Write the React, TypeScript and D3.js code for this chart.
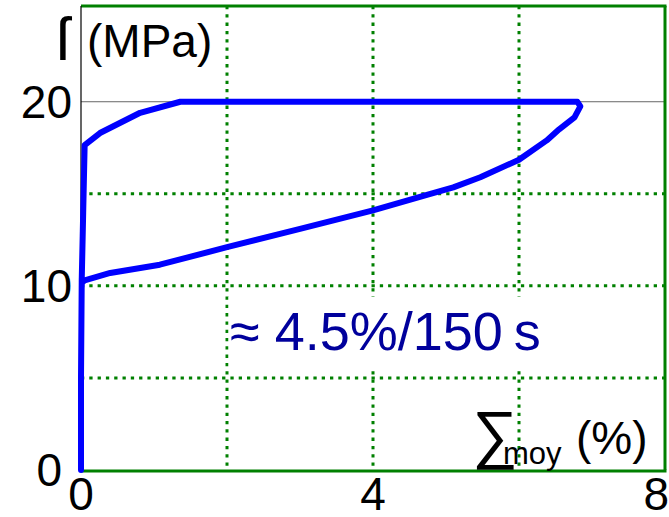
import React from "react";
import * as d3 from "d3";

// ---- data ----
const xTicks = [0, 4, 8];
const yTicks = [0, 10, 20];
const xGrid = [2, 4, 6];
const yGrid = [5, 10, 15];
const refLevel = 20;

// strain (%) along the loop: loading up the axis, creep at 20 MPa, unloading branch
const strain = [0, 0, 0.01, 0.03, 0.05, 0.26, 0.81, 1.36, 6.8, 6.84, 6.76, 6.55, 6.38, 6.0, 5.47, 5.1, 4.75, 4.0, 3.0, 2.0, 1.08, 0.4, 0.05, 0.02];
const stress = [0, 5, 10.3, 14.0, 17.65, 18.3, 19.4, 20.0, 20.0, 19.75, 19.15, 18.5, 17.9, 16.85, 15.9, 15.35, 14.95, 14.1, 13.1, 12.1, 11.15, 10.7, 10.3, 10.2];

const annotation = "\u2248 4.5%/150\u2009s";

export default function App() {
  const W = 669, H = 517;
  const x = d3.scaleLinear().domain([0, 8]).range([81, 665]);
  const y = d3.scaleLinear().domain([0, 25.2]).range([470, 6]);
  const pts: [number, number][] = strain.map((s, i) => [s, stress[i]]);
  const line = d3.line<[number, number]>().x(d => x(d[0])).y(d => y(d[1]));
  const font = "'Liberation Sans', Arial, sans-serif";
  const green = "#008000";
  const [x0, x1] = x.range();
  const [y0, y1] = y.range();
  return (
    <svg width={W} height={H} style={{ position: "absolute", left: 0, top: 0, background: "#fff" }} fontFamily={font}>
      <rect x={0} y={0} width={W} height={H} fill="#fff" />
      {/* grid */}
      {xGrid.map(v => (
        <line key={"gx" + v} x1={x(v)} x2={x(v)} y1={y1} y2={y0} stroke={green} strokeWidth={3} strokeDasharray="3.3,5" />
      ))}
      {yGrid.map(v => (
        <line key={"gy" + v} x1={x0} x2={x1} y1={y(v)} y2={y(v)} stroke={green} strokeWidth={3} strokeDasharray="3.3,5" />
      ))}
      <line x1={x0} x2={x1} y1={y(refLevel)} y2={y(refLevel)} stroke="#666" strokeWidth={1} />
      {/* frame */}
      <line x1={x0} x2={x1 + 1.5} y1={y1} y2={y1} stroke={green} strokeWidth={3} />
      <line x1={x1} x2={x1} y1={y1} y2={y0} stroke={green} strokeWidth={3} />
      <line x1={x0} x2={x1 + 1.5} y1={y0 + 1} y2={y0 + 1} stroke={green} strokeWidth={3} />
      <line x1={x0} x2={x0} y1={y1} y2={y0} stroke="#000" strokeWidth={1.2} />
      {/* annotation box */}
      <rect x={x(2) + 1.5} y={297} width={320} height={70} fill="#fff" />
      <text x={230} y={350} fontSize={54} fill="#00009c">{annotation}</text>
      {/* curve */}
      <path d={line(pts) || ""} fill="none" stroke="#0000ff" strokeWidth={6} strokeLinejoin="round" strokeLinecap="round" />
      {/* tick labels */}
      {yTicks.map(v => (
        <text key={"yt" + v} x={v === 0 ? 62 : 72} y={y(v) + 16} fontSize={46} textAnchor="end" fill="#000">{v}</text>
      ))}
      {xTicks.map((v, i) => (
        <text key={"xt" + v} x={i === xTicks.length - 1 ? 669 : x(v)} y={510} fontSize={46} textAnchor={i === xTicks.length - 1 ? "end" : "middle"} fill="#000">{v}</text>
      ))}
      {/* axis labels */}
      <text x={56} y={60} fontSize={62} fill="#000">{"\u017F"}</text>
      <text x={87} y={57} fontSize={46} fill="#000">(MPa)</text>
      <text x={472} y={456} fontSize={64} fill="#000">{"\u2211"}</text>
      <text x={503} y={464} fontSize={31} fill="#000">moy</text>
      <text x={576} y={454} fontSize={46} fill="#000">(%)</text>
    </svg>
  );
}
